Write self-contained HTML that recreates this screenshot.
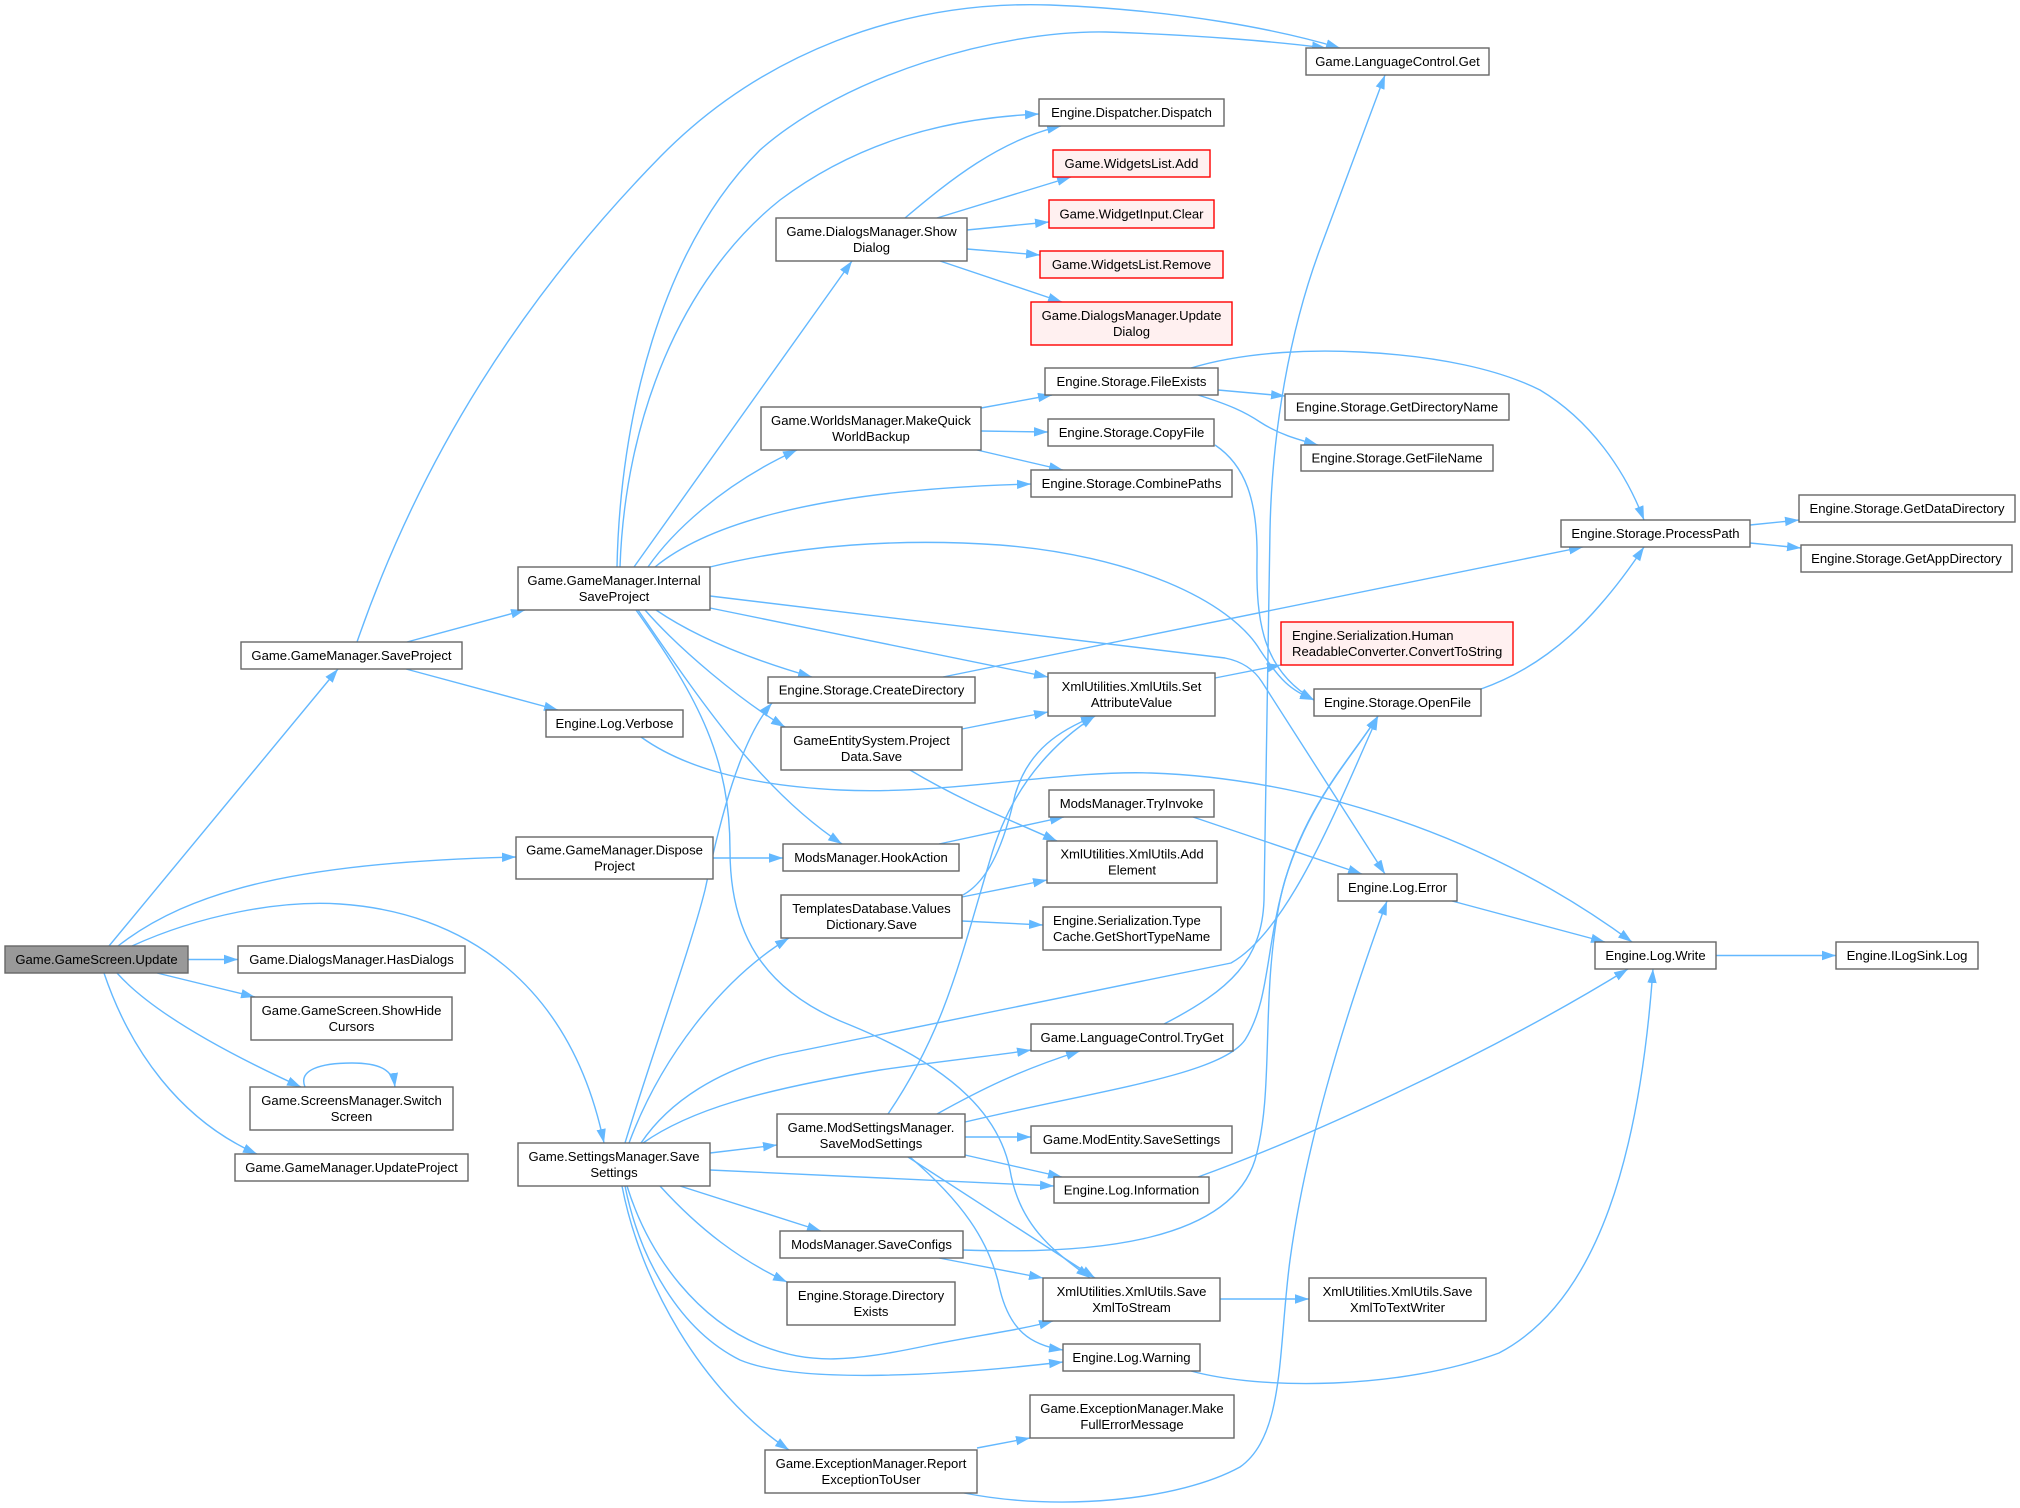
<!DOCTYPE html>
<html><head><meta charset="utf-8"><style>
html,body{margin:0;padding:0;background:#fff;}
svg{display:block;}
text{font-family:"Liberation Sans",Arial,sans-serif;font-size:13.1px;fill:#000;}
.e{fill:none;stroke:#63b8ff;stroke-width:1.4;}
.n{fill:#fff;stroke:#666;stroke-width:1.4;}
.r{fill:#fff0f0;stroke:#ff0000;stroke-width:1.4;}
.g{fill:#999;stroke:#666;stroke-width:1.4;}
</style></head><body>
<svg width="2020" height="1508" viewBox="0 0 2020 1508" xmlns="http://www.w3.org/2000/svg">
<defs><marker id="a" markerWidth="15" markerHeight="11" refX="14" refY="5" orient="auto" markerUnits="userSpaceOnUse"><path d="M0,0.3 L14,5 L0,9.7 z" fill="#63b8ff"/></marker></defs>
<g marker-end="url(#a)">
<path class="e" marker-end="url(#a)" d="M109,946 L338,669"/>
<path class="e" marker-end="url(#a)" d="M118,946 C190,890 300,862 516,857"/>
<path class="e" marker-end="url(#a)" d="M132,946 C200,915 280,900 340,904 C460,912 570,980 604,1143"/>
<path class="e" marker-end="url(#a)" d="M188,959.5 L238,959.5"/>
<path class="e" marker-end="url(#a)" d="M157,973 L255,997"/>
<path class="e" marker-end="url(#a)" d="M117,973 C150,1010 220,1050 301,1087"/>
<path class="e" marker-end="url(#a)" d="M104,973 C130,1050 180,1120 257,1154"/>
<path class="e" marker-end="url(#a)" d="M305,1087 C298,1070 320,1063 352,1063 C380,1063 393,1070 395,1087"/>
<path class="e" marker-end="url(#a)" d="M407,642 L525,610"/>
<path class="e" marker-end="url(#a)" d="M406,669 L558,710"/>
<path class="e" marker-end="url(#a)" d="M357,642 C420,460 520,300 660,157 C760,55 900,0 1050,5 C1180,10 1280,30 1340,48"/>
<path class="e" marker-end="url(#a)" d="M617,567 C620,420 660,250 760,150 C845,75 1000,30 1106,32 C1200,35 1280,42 1326,48"/>
<path class="e" marker-end="url(#a)" d="M620,567 C625,420 680,280 780,200 C860,140 950,118 1039,114"/>
<path class="e" marker-end="url(#a)" d="M634,567 L852,261"/>
<path class="e" marker-end="url(#a)" d="M648,567 C670,535 720,485 797,450"/>
<path class="e" marker-end="url(#a)" d="M655,567 C700,530 800,490 1031,484"/>
<path class="e" marker-end="url(#a)" d="M710,567 C800,545 900,538 1000,545 C1130,555 1230,600 1260,650 C1280,680 1290,690 1314,700"/>
<path class="e" marker-end="url(#a)" d="M710,596 L1225,658 Q1250,663 1262,682 L1385,874"/>
<path class="e" marker-end="url(#a)" d="M710,608 L1048,677"/>
<path class="e" marker-end="url(#a)" d="M656,610 C700,640 760,662 812,677"/>
<path class="e" marker-end="url(#a)" d="M645,610 C680,650 740,700 785,727"/>
<path class="e" marker-end="url(#a)" d="M638,610 C700,700 760,790 842,844"/>
<path class="e" marker-end="url(#a)" d="M636,610 C700,700 730,760 730,850 C730,930 760,990 850,1025 C960,1070 1000,1120 1010,1170 C1020,1230 1060,1255 1090,1278"/>
<path class="e" marker-end="url(#a)" d="M905,218 C950,180 1000,140 1061,126"/>
<path class="e" marker-end="url(#a)" d="M937,218 L1071,177"/>
<path class="e" marker-end="url(#a)" d="M967,230 L1049,222"/>
<path class="e" marker-end="url(#a)" d="M967,249 L1040,255"/>
<path class="e" marker-end="url(#a)" d="M940,261 L1062,302"/>
<path class="e" marker-end="url(#a)" d="M981,408 L1052,395"/>
<path class="e" marker-end="url(#a)" d="M981,431 L1048,432"/>
<path class="e" marker-end="url(#a)" d="M977,450 L1063,470"/>
<path class="e" marker-end="url(#a)" d="M1191,368 C1250,350 1320,350 1360,352 C1440,356 1500,370 1540,390 C1590,420 1625,470 1644,520"/>
<path class="e" marker-end="url(#a)" d="M1218,390 L1285,396"/>
<path class="e" marker-end="url(#a)" d="M1198,395 C1230,405 1245,412 1260,422 C1280,435 1300,440 1318,445"/>
<path class="e" marker-end="url(#a)" d="M1215,445 C1245,465 1258,500 1257,560 C1256,620 1262,670 1314,700"/>
<path class="e" marker-end="url(#a)" d="M943,677 L1583,547"/>
<path class="e" marker-end="url(#a)" d="M1481,689 C1530,672 1570,640 1600,605 C1615,588 1630,568 1644,547"/>
<path class="e" marker-end="url(#a)" d="M1750,525 L1799,520"/>
<path class="e" marker-end="url(#a)" d="M1750,543 L1801,548"/>
<path class="e" marker-end="url(#a)" d="M1215,678 L1281,665"/>
<path class="e" marker-end="url(#a)" d="M962,729 L1048,712"/>
<path class="e" marker-end="url(#a)" d="M910,770 C960,800 1010,820 1057,841"/>
<path class="e" marker-end="url(#a)" d="M939,844 L1064,817"/>
<path class="e" marker-end="url(#a)" d="M713,858 L783,858"/>
<path class="e" marker-end="url(#a)" d="M1193,817 L1362,874"/>
<path class="e" marker-end="url(#a)" d="M962,897 L1047,880"/>
<path class="e" marker-end="url(#a)" d="M962,921 L1043,925"/>
<path class="e" marker-end="url(#a)" d="M963,895 C990,880 1005,840 1015,795 C1028,750 1060,730 1095,716"/>
<path class="e" marker-end="url(#a)" d="M888,1114 C945,1030 960,960 990,860 C1010,790 1050,745 1095,716"/>
<path class="e" marker-end="url(#a)" d="M937,1114 C980,1090 1020,1070 1080,1051"/>
<path class="e" marker-end="url(#a)" d="M965,1122 C1100,1090 1220,1075 1245,1040 C1270,1000 1265,950 1285,880 C1310,800 1350,760 1378,716"/>
<path class="e" marker-end="url(#a)" d="M965,1137 L1031,1137"/>
<path class="e" marker-end="url(#a)" d="M965,1155 L1062,1177"/>
<path class="e" marker-end="url(#a)" d="M908,1157 L1095,1278"/>
<path class="e" marker-end="url(#a)" d="M910,1157 C960,1200 990,1240 1000,1290 C1010,1330 1030,1345 1063,1350"/>
<path class="e" marker-end="url(#a)" d="M625,1143 C650,1060 690,950 705,890 C720,820 740,740 772,703"/>
<path class="e" marker-end="url(#a)" d="M629,1143 C660,1060 720,980 789,938"/>
<path class="e" marker-end="url(#a)" d="M641,1143 C670,1100 720,1070 780,1055 L1231,963 C1290,930 1340,800 1378,716"/>
<path class="e" marker-end="url(#a)" d="M643,1143 C690,1110 760,1090 880,1070 C950,1060 1000,1055 1031,1050"/>
<path class="e" marker-end="url(#a)" d="M710,1153 L777,1145"/>
<path class="e" marker-end="url(#a)" d="M710,1170 L1054,1186"/>
<path class="e" marker-end="url(#a)" d="M680,1186 L821,1231"/>
<path class="e" marker-end="url(#a)" d="M660,1186 C700,1230 740,1260 787,1282"/>
<path class="e" marker-end="url(#a)" d="M627,1186 C650,1260 700,1320 760,1345 C810,1365 850,1362 930,1345 C980,1335 1020,1330 1053,1321"/>
<path class="e" marker-end="url(#a)" d="M625,1186 C640,1260 680,1330 740,1360 C800,1385 950,1375 1063,1362"/>
<path class="e" marker-end="url(#a)" d="M622,1186 C640,1280 700,1390 789,1450"/>
<path class="e" marker-end="url(#a)" d="M963,1250 C1100,1255 1230,1240 1255,1160 C1275,1090 1260,1000 1280,900 C1300,810 1350,760 1378,716"/>
<path class="e" marker-end="url(#a)" d="M939,1258 L1043,1278"/>
<path class="e" marker-end="url(#a)" d="M1220,1299 L1309,1299"/>
<path class="e" marker-end="url(#a)" d="M977,1448 L1030,1438"/>
<path class="e" marker-end="url(#a)" d="M964,1493 C1060,1512 1180,1500 1240,1467 C1285,1435 1278,1350 1290,1260 C1305,1150 1340,1030 1387,901"/>
<path class="e" marker-end="url(#a)" d="M1164,1024 C1230,990 1262,960 1264,900 L1270,530 C1272,430 1290,330 1320,249 L1385,75"/>
<path class="e" marker-end="url(#a)" d="M641,737 C680,765 740,785 840,790 C950,795 1060,770 1151,773 C1300,778 1480,830 1632,942"/>
<path class="e" marker-end="url(#a)" d="M1452,901 L1605,942"/>
<path class="e" marker-end="url(#a)" d="M1198,1177 C1300,1140 1480,1060 1628,969"/>
<path class="e" marker-end="url(#a)" d="M1191,1371 C1260,1390 1400,1390 1499,1353 C1600,1300 1640,1150 1653,969"/>
<path class="e" marker-end="url(#a)" d="M1716,955.5 L1836,955.5"/>
</g>

<g text-anchor="middle">
<rect class="g" x="5" y="946" width="183" height="27"/><text x="96.5" y="964.2">Game.GameScreen.Update</text>
<rect class="n" x="241" y="642" width="221" height="27"/><text x="351.5" y="660.2">Game.GameManager.SaveProject</text>
<rect class="n" x="516" y="837" width="197" height="42"/><text x="614.5" y="854.7">Game.GameManager.Dispose</text><text x="614.5" y="870.7">Project</text>
<rect class="n" x="238" y="946" width="227" height="27"/><text x="351.5" y="964.2">Game.DialogsManager.HasDialogs</text>
<rect class="n" x="251" y="997" width="201" height="43"/><text x="351.5" y="1015.2">Game.GameScreen.ShowHide</text><text x="351.5" y="1031.2">Cursors</text>
<rect class="n" x="250" y="1087" width="203" height="43"/><text x="351.5" y="1105.2">Game.ScreensManager.Switch</text><text x="351.5" y="1121.2">Screen</text>
<rect class="n" x="235" y="1154" width="233" height="27"/><text x="351.5" y="1172.2">Game.GameManager.UpdateProject</text>
<rect class="n" x="518" y="1143" width="192" height="43"/><text x="614" y="1161.2">Game.SettingsManager.Save</text><text x="614" y="1177.2">Settings</text>
<rect class="n" x="518" y="567" width="192" height="43"/><text x="614" y="585.2">Game.GameManager.Internal</text><text x="614" y="601.2">SaveProject</text>
<rect class="n" x="546" y="710" width="137" height="27"/><text x="614.5" y="728.2">Engine.Log.Verbose</text>
<rect class="n" x="776" y="218" width="191" height="43"/><text x="871.5" y="236.2">Game.DialogsManager.Show</text><text x="871.5" y="252.2">Dialog</text>
<rect class="n" x="761" y="407" width="220" height="43"/><text x="871" y="425.2">Game.WorldsManager.MakeQuick</text><text x="871" y="441.2">WorldBackup</text>
<rect class="n" x="768" y="677" width="207" height="26"/><text x="871.5" y="694.7">Engine.Storage.CreateDirectory</text>
<rect class="n" x="781" y="727" width="181" height="43"/><text x="871.5" y="745.2">GameEntitySystem.Project</text><text x="871.5" y="761.2">Data.Save</text>
<rect class="n" x="783" y="844" width="176" height="27"/><text x="871" y="862.2">ModsManager.HookAction</text>
<rect class="n" x="781" y="895" width="181" height="43"/><text x="871.5" y="913.2">TemplatesDatabase.Values</text><text x="871.5" y="929.2">Dictionary.Save</text>
<rect class="n" x="777" y="1114" width="188" height="43"/><text x="871" y="1132.2">Game.ModSettingsManager.</text><text x="871" y="1148.2">SaveModSettings</text>
<rect class="n" x="780" y="1231" width="183" height="27"/><text x="871.5" y="1249.2">ModsManager.SaveConfigs</text>
<rect class="n" x="787" y="1282" width="168" height="43"/><text x="871" y="1300.2">Engine.Storage.Directory</text><text x="871" y="1316.2">Exists</text>
<rect class="n" x="765" y="1450" width="212" height="43"/><text x="871" y="1468.2">Game.ExceptionManager.Report</text><text x="871" y="1484.2">ExceptionToUser</text>
<rect class="n" x="1039" y="99" width="185" height="27"/><text x="1131.5" y="117.2">Engine.Dispatcher.Dispatch</text>
<rect class="r" x="1053" y="150" width="157" height="27"/><text x="1131.5" y="168.2">Game.WidgetsList.Add</text>
<rect class="r" x="1049" y="200" width="165" height="28"/><text x="1131.5" y="218.7">Game.WidgetInput.Clear</text>
<rect class="r" x="1040" y="251" width="183" height="27"/><text x="1131.5" y="269.2">Game.WidgetsList.Remove</text>
<rect class="r" x="1031" y="302" width="201" height="43"/><text x="1131.5" y="320.2">Game.DialogsManager.Update</text><text x="1131.5" y="336.2">Dialog</text>
<rect class="n" x="1045" y="368" width="173" height="27"/><text x="1131.5" y="386.2">Engine.Storage.FileExists</text>
<rect class="n" x="1048" y="419" width="166" height="27"/><text x="1131.5" y="437.2">Engine.Storage.CopyFile</text>
<rect class="n" x="1031" y="470" width="201" height="27"/><text x="1131.5" y="488.2">Engine.Storage.CombinePaths</text>
<rect class="n" x="1048" y="673" width="167" height="43"/><text x="1131.5" y="691.2">XmlUtilities.XmlUtils.Set</text><text x="1131.5" y="707.2">AttributeValue</text>
<rect class="n" x="1049" y="790" width="165" height="27"/><text x="1131.5" y="808.2">ModsManager.TryInvoke</text>
<rect class="n" x="1047" y="841" width="170" height="42"/><text x="1132" y="858.7">XmlUtilities.XmlUtils.Add</text><text x="1132" y="874.7">Element</text>
<rect class="n" x="1043" y="907" width="178" height="43"/><text x="1053" y="925.2" text-anchor="start">Engine.Serialization.Type</text><text x="1053" y="941.2" text-anchor="start">Cache.GetShortTypeName</text>
<rect class="n" x="1031" y="1024" width="202" height="27"/><text x="1132" y="1042.2">Game.LanguageControl.TryGet</text>
<rect class="n" x="1031" y="1126" width="201" height="27"/><text x="1131.5" y="1144.2">Game.ModEntity.SaveSettings</text>
<rect class="n" x="1054" y="1177" width="155" height="26"/><text x="1131.5" y="1194.7">Engine.Log.Information</text>
<rect class="n" x="1043" y="1278" width="177" height="43"/><text x="1131.5" y="1296.2">XmlUtilities.XmlUtils.Save</text><text x="1131.5" y="1312.2">XmlToStream</text>
<rect class="n" x="1063" y="1344" width="137" height="27"/><text x="1131.5" y="1362.2">Engine.Log.Warning</text>
<rect class="n" x="1030" y="1395" width="204" height="43"/><text x="1132" y="1413.2">Game.ExceptionManager.Make</text><text x="1132" y="1429.2">FullErrorMessage</text>
<rect class="n" x="1306" y="48" width="183" height="27"/><text x="1397.5" y="66.2">Game.LanguageControl.Get</text>
<rect class="n" x="1285" y="394" width="224" height="26"/><text x="1397" y="411.7">Engine.Storage.GetDirectoryName</text>
<rect class="n" x="1301" y="445" width="192" height="26"/><text x="1397" y="462.7">Engine.Storage.GetFileName</text>
<rect class="r" x="1281" y="622" width="232" height="43"/><text x="1292" y="640.2" text-anchor="start">Engine.Serialization.Human</text><text x="1292" y="656.2" text-anchor="start">ReadableConverter.ConvertToString</text>
<rect class="n" x="1314" y="689" width="167" height="27"/><text x="1397.5" y="707.2">Engine.Storage.OpenFile</text>
<rect class="n" x="1338" y="874" width="119" height="27"/><text x="1397.5" y="892.2">Engine.Log.Error</text>
<rect class="n" x="1309" y="1278" width="177" height="43"/><text x="1397.5" y="1296.2">XmlUtilities.XmlUtils.Save</text><text x="1397.5" y="1312.2">XmlToTextWriter</text>
<rect class="n" x="1561" y="520" width="189" height="27"/><text x="1655.5" y="538.2">Engine.Storage.ProcessPath</text>
<rect class="n" x="1799" y="495" width="216" height="27"/><text x="1907" y="513.2">Engine.Storage.GetDataDirectory</text>
<rect class="n" x="1801" y="545" width="211" height="27"/><text x="1906.5" y="563.2">Engine.Storage.GetAppDirectory</text>
<rect class="n" x="1595" y="942" width="121" height="27"/><text x="1655.5" y="960.2">Engine.Log.Write</text>
<rect class="n" x="1836" y="942" width="142" height="27"/><text x="1907" y="960.2">Engine.ILogSink.Log</text>
</g>
</svg>
</body></html>
